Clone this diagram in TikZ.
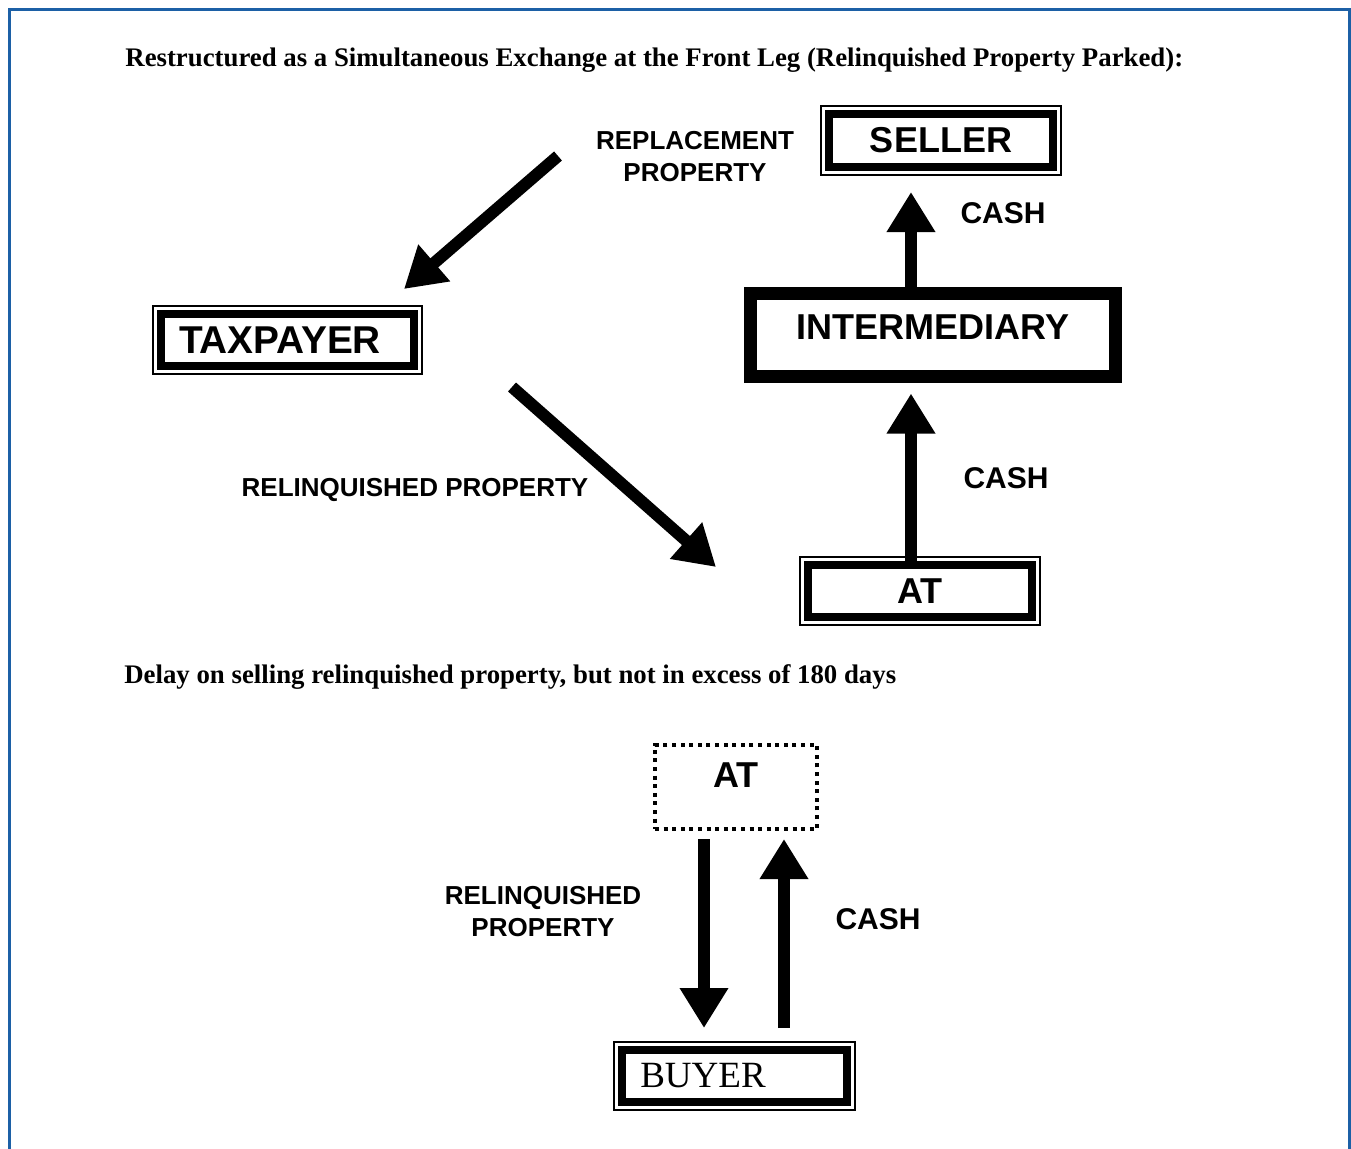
\documentclass[tikz,border=0pt]{standalone}
\usepackage{fontspec}
\setmainfont{Liberation Serif}
\newfontfamily\arial{Liberation Sans}
\usetikzlibrary{arrows.meta,calc}
\definecolor{frameblue}{RGB}{28,96,166}

\tikzset{
  dbox/.style={draw, fill=white, line width=4pt, inner sep=0pt,
    preaction={draw, line width=9pt}, preaction={draw=white, line width=7pt},
    font=\arial\bfseries\fontsize{18}{20}\selectfont},
  lbl/.style={font=\arial\bfseries\fontsize{13}{16}\selectfont, align=center},
  cash/.style={font=\arial\bfseries\fontsize{15}{18}\selectfont},
  bigarr/.style={line width=6pt, -{Triangle[width=23pt,length=20pt]}},
}

\begin{document}
\begin{tikzpicture}[x=0.5pt,y=-0.5pt]
\useasboundingbox (0,0) rectangle (1351,1148);
\draw[frameblue, line width=1.6pt] (9.5,1160) -- (9.5,9.5) -- (1349.5,9.5) -- (1349.5,1160);

% front leg
\node[anchor=base west, inner sep=0pt, font=\bfseries\fontsize{13.4}{16}\selectfont] (T1) at (125,66)
  {Restructured as a Simultaneous Exchange at the Front Leg (Relinquished Property Parked):};
\node[dbox, minimum width=112pt, minimum height=26.5pt] (SL) at (941,140.5) {SELLER};
\node[dbox, font=\arial\bfseries\fontsize{19.4}{21}\selectfont, minimum width=126.5pt, minimum height=26pt] (TX) at (287.5,340) {TAXPAYER\kern7.5pt};
\node[draw, fill=white, line width=6.5pt, inner sep=0pt, minimum width=182.5pt, minimum height=41.5pt,
  font=\arial\bfseries\fontsize{18}{20}\selectfont] (IM) at (933,335) {\raisebox{4pt}[\height][\depth]{INTERMEDIARY}};
\node[dbox, minimum width=112pt, minimum height=26pt] (AT) at (920,591) {AT};
\node[lbl] (RP) at (695,157) {REPLACEMENT\\PROPERTY};
\node[cash] (C1) at (1003,213) {CASH};
\node[cash] (C2) at (1006,478) {CASH};
\node[lbl] (RL) at (415,490) {RELINQUISHED PROPERTY};
\coordinate (r1) at (558,156);
\coordinate (r2) at (512,387);
\draw[bigarr] ($(IM.north)+(-22,0)$) -- ($(SL.south)+(-30,21)$);
\draw[bigarr] ($(AT.north)+(-9,0)$) -- ($(IM.south)+(-22,10.5)$);
\draw[bigarr] (r1) -- ($(TX.north east)+(-14,-21)$);
\draw[bigarr] (r2) -- ($(AT.west)+(-88,-24)$);

% parked property sold later
\node[anchor=base west, inner sep=0pt, font=\bfseries\fontsize{13.4}{16}\selectfont] (T2) at (124,683)
  {Delay on selling relinquished property, but not in excess of 180 days};
\node[draw, line width=2pt, dash pattern=on 2pt off 2.3pt, inner sep=0pt, minimum width=81pt, minimum height=42pt,
  font=\arial\bfseries\fontsize{18}{20}\selectfont] (ATd) at (736,787) {\raisebox{6pt}[\height][\depth]{AT}};
\node[dbox, font=\fontsize{18.5}{20}\selectfont, minimum width=112.5pt, minimum height=26pt] (BY) at (734.5,1076) {BUYER\kern31.5pt};
\node[lbl] (RL2) at (543,912) {RELINQUISHED\\PROPERTY};
\node[cash] (C3) at (878,919) {CASH};
\draw[bigarr] ($(ATd.south)+(-32,8)$) -- ($(BY.north)+(-30.5,-18)$);
\draw[bigarr] ($(BY.north)+(49.5,-18)$) -- ($(ATd.south)+(48,8)$);
\end{tikzpicture}
\end{document}
